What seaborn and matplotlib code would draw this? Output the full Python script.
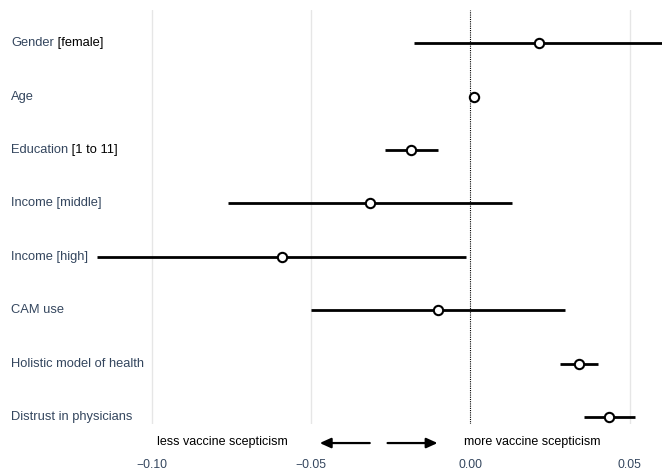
import matplotlib
matplotlib.use('Agg')
import matplotlib.pyplot as plt
import matplotlib.transforms as mtransforms
import seaborn as sns
import pandas as pd

# term labels (main part + bracketed part)
terms = ['Gender', 'Age', 'Education', 'Income [middle]', 'Income [high]',
         'CAM use', 'Holistic model of health', 'Distrust in physicians']
suffix = [' [female]', '', ' [1 to 11]', '', '', '', '', '']

# estimates and 95% CI
estimate = [0.0217, 0.0010, -0.0185, -0.0316, -0.0592, -0.0102, 0.0341, 0.0435]
ci_low = [-0.0178, 0.0006, -0.0269, -0.0761, -0.1173, -0.0501, 0.0282, 0.0357]
ci_high = [0.0612, 0.0014, -0.0102, 0.0131, -0.0013, 0.0296, 0.0401, 0.0516]

xticks = [-0.10, -0.05, 0.00, 0.05]

df = pd.DataFrame({'term': terms, 'estimate': estimate,
                   'low': ci_low, 'high': ci_high})
df['pos'] = range(len(df))

sns.set_theme(style='white')
plt.rcParams['font.family'] = ['Liberation Sans', 'DejaVu Sans']
txt_col = '#34465e'

fig = plt.figure(figsize=(6.62, 4.72), dpi=100)
ax = fig.add_axes([95 / 662, 48 / 472, 567 / 662, 414 / 472])

# grid
for x in xticks:
    if x != 0:
        ax.axvline(x, color='#e6e6e6', lw=1, zorder=0)
ax.axvline(0, color='black', ls=(0, (1, 1)), lw=0.8, zorder=1)

# confidence intervals
ax.hlines(df['pos'], df['low'], df['high'], color='black', lw=2, zorder=2)
sns.scatterplot(data=df, x='estimate', y='pos', ax=ax, s=45, color='white',
                edgecolor='black', linewidth=1.5, zorder=3, legend=False)

ax.set_xlim(-0.1179, 0.0602)
ax.set_ylim(7.13, -0.62)
ax.set_xticks(xticks)
ax.set_xticklabels(['\u22120.10', '\u22120.05', '0.00', '0.05'])
ax.set_yticks([])
ax.tick_params(axis='x', length=0, pad=25, labelsize=8.8, labelcolor=txt_col)
ax.set_xlabel('')
ax.set_ylabel('')
sns.despine(ax=ax, left=True, bottom=True, top=True, right=True)

# term labels on the left
trans = mtransforms.blended_transform_factory(fig.transFigure, ax.transData)
for i, (t, s) in enumerate(zip(terms, suffix)):
    lab = ax.text(11 / 662, i, t, transform=trans, ha='left', va='center',
                  fontsize=9.3, color=txt_col)
    if s:
        ax.annotate(s, xy=(1, 0.5), xycoords=lab, ha='left', va='center',
                    fontsize=9.3, color='black')

# direction annotations below the plot
btrans = mtransforms.blended_transform_factory(ax.transData, ax.transAxes)
ax.text(-0.0778, -0.043, 'less vaccine scepticism', transform=btrans,
        ha='center', va='center', fontsize=9, color='black')
ax.text(0.0193, -0.043, 'more vaccine scepticism', transform=btrans,
        ha='center', va='center', fontsize=9, color='black')
arrow = dict(arrowstyle='-|>,head_length=0.55,head_width=0.25', color='black',
             lw=1.6, mutation_scale=12, shrinkA=0, shrinkB=0)
ax.annotate('', xy=(-0.0473, -0.046), xytext=(-0.0316, -0.046),
            xycoords=btrans, textcoords=btrans, arrowprops=arrow,
            annotation_clip=False)
ax.annotate('', xy=(-0.0103, -0.046), xytext=(-0.0260, -0.046),
            xycoords=btrans, textcoords=btrans, arrowprops=arrow,
            annotation_clip=False)

fig.savefig('out.png', dpi=100)
